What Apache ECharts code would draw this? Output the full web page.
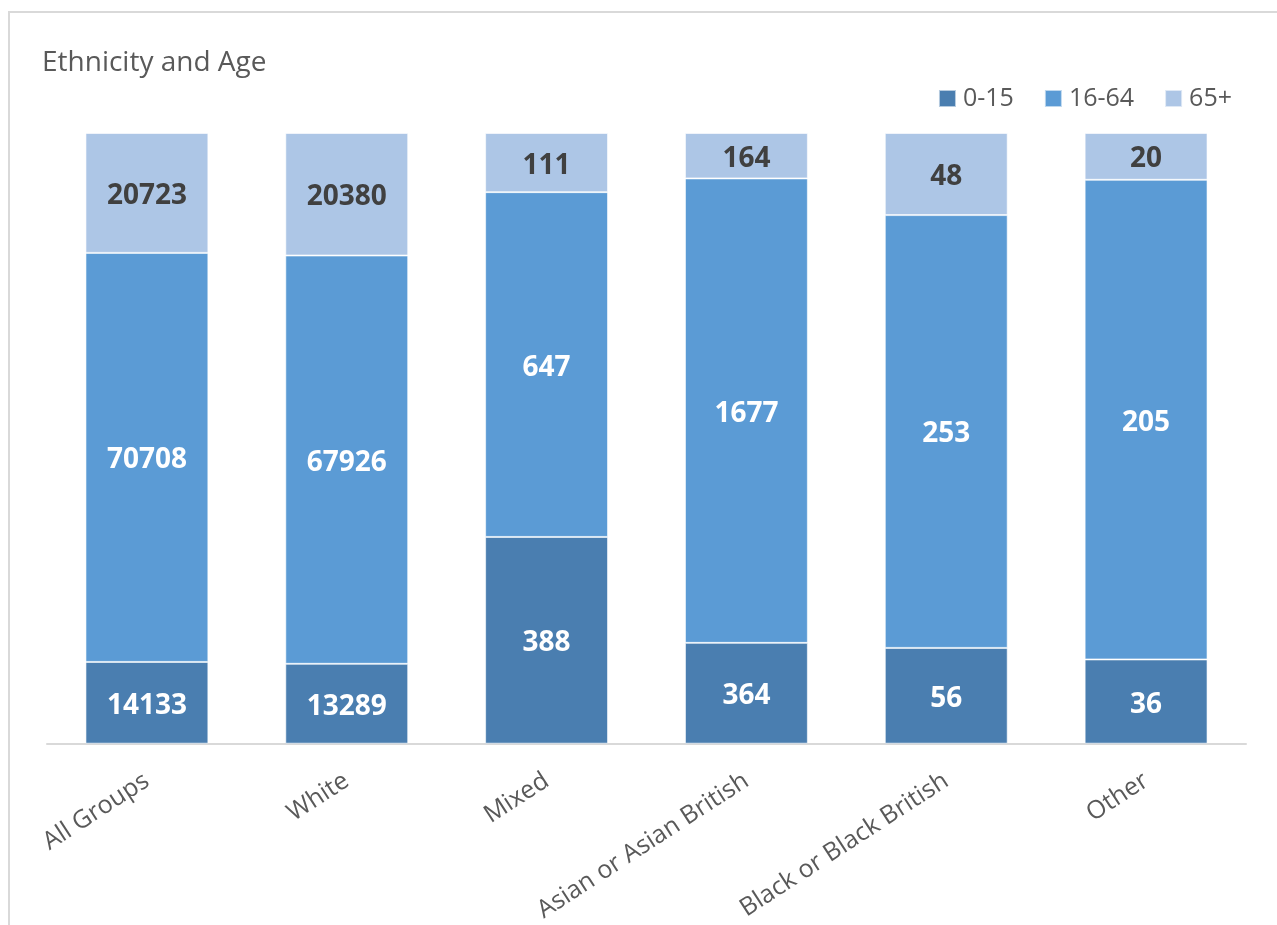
<!DOCTYPE html>
<html>
<head>
<meta charset="utf-8">
<script src="https://cdn.jsdelivr.net/npm/echarts@6/dist/echarts.min.js"></script>
<style>
html,body{margin:0;padding:0;background:#fff;}
#frame{position:absolute;left:8px;top:11px;width:1300px;height:950px;border:2px solid #d9d9d9;box-sizing:border-box;}
#chart{position:absolute;left:0;top:0;width:1277px;height:925px;}
</style>
</head>
<body>
<div id="frame"></div>
<div id="chart"></div>
<script>
const categories = ['All Groups', 'White', 'Mixed', 'Asian or Asian British', 'Black or Black British', 'Other'];
const age0to15 = [14133, 13289, 388, 364, 56, 36];
const age16to64 = [70708, 67926, 647, 1677, 253, 205];
const age65plus = [20723, 20380, 111, 164, 48, 20];
const seriesNames = ['0-15', '16-64', '65+'];

const totals = categories.map((_, i) => age0to15[i] + age16to64[i] + age65plus[i]);
const pct = arr => arr.map((v, i) => ({ value: v / totals[i] * 100, raw: v }));

const FONT = '"Open Sans", "Noto Sans", sans-serif';
const colors = ['#4a7eb0', '#5b9bd5', '#adc6e6'];
const labelColors = ['#ffffff', '#ffffff', '#404040'];
const raws = [age0to15, age16to64, age65plus];

const chart = echarts.init(document.getElementById('chart'), null, { renderer: 'canvas' });
chart.setOption({
  animation: false,
  backgroundColor: 'transparent',
  title: {
    text: 'Ethnicity and Age',
    left: 37, top: 44,
    textStyle: { fontFamily: FONT, fontSize: 28, fontWeight: 'normal', color: '#595959' }
  },
  legend: {
    right: 40, top: 81,
    itemWidth: 17, itemHeight: 17, itemGap: 30,
    icon: 'rect',
    textStyle: { fontFamily: FONT, fontSize: 25, color: '#595959', padding: [0, 0, 0, 2] },
    data: seriesNames
  },
  grid: { left: 47, right: 31, top: 133, bottom: 179, containLabel: false },
  xAxis: {
    type: 'category',
    data: categories,
    axisLine: { lineStyle: { color: '#d9d9d9', width: 2 } },
    axisTick: { show: false },
    axisLabel: {
      rotate: 33, margin: 35, interval: 0,
      fontFamily: FONT, fontSize: 25, color: '#595959'
    }
  },
  yAxis: { type: 'value', min: 0, max: 100, show: false, splitLine: { show: false } },
  series: seriesNames.map((name, k) => ({
    name,
    type: 'bar',
    stack: 'total',
    barWidth: '61.5%',
    data: pct(raws[k]),
    itemStyle: { color: colors[k], borderColor: 'rgba(255,255,255,0.6)', borderWidth: 1 },
    label: {
      show: true,
      position: 'inside',
      offset: [0, 3],
      formatter: p => p.data.raw,
      fontFamily: FONT, fontSize: 28, fontWeight: 'bold', color: labelColors[k]
    }
  }))
});
</script>
</body>
</html>
